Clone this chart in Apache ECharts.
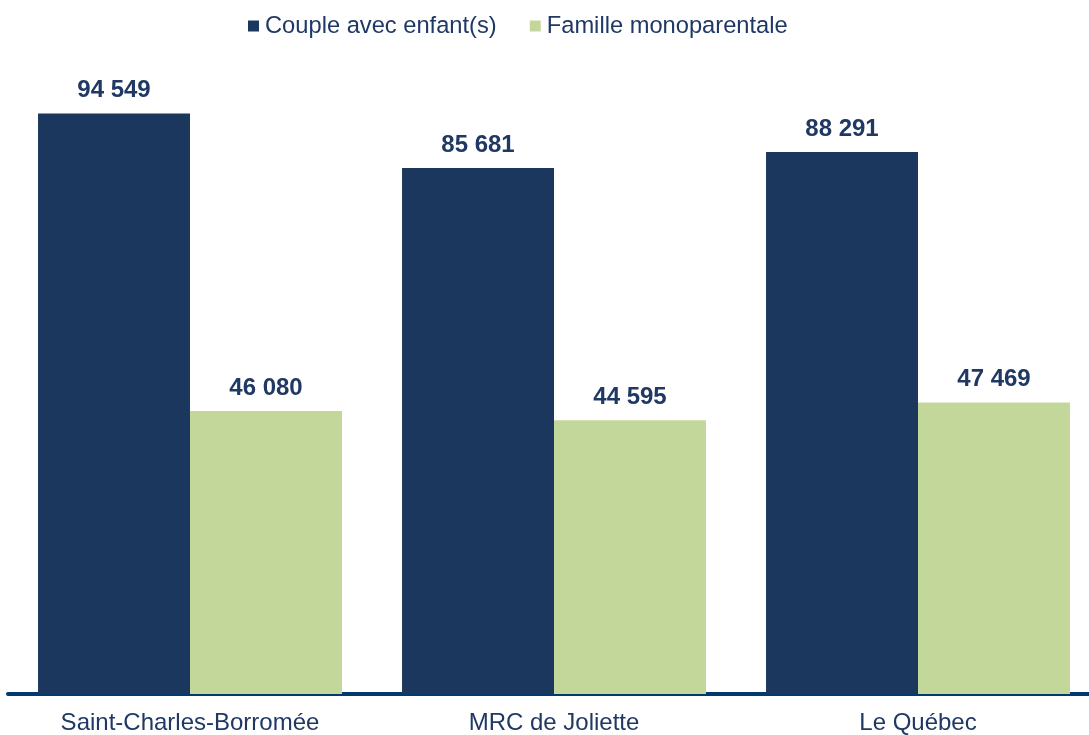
<!DOCTYPE html>
<html>
<head>
<meta charset="utf-8">
<script src="https://cdn.jsdelivr.net/npm/echarts@6/dist/echarts.min.js"></script>
<style>
  html, body { margin: 0; padding: 0; background: #fff; overflow: hidden; }
  #chart { width: 1100px; height: 735px; }
</style>
</head>
<body>
<div id="chart"></div>
<script>
var categories = ['Saint-Charles-Borromée', 'MRC de Joliette', 'Le Québec'];
var couple = [94549, 85681, 88291];
var monoparentale = [46080, 44595, 47469];

var textColor = '#1f3864';

function fmt(p) {
  return String(p.value).replace(/\B(?=(\d{3})+(?!\d))/g, ' ');
}

// the plot runs a little past the right edge of the window, as in the source image
var chart = echarts.init(document.getElementById('chart'));
chart.setOption({
  animation: false,
  textStyle: { fontFamily: 'Liberation Sans, Arial, sans-serif' },
  legend: {
    top: 14,
    left: 248,
    padding: 0,
    itemWidth: 11,
    itemHeight: 11,
    itemGap: 33,
    icon: 'rect',
    textStyle: { fontSize: 23.7, color: textColor, padding: [0, 0, 0, 1] },
    data: ['Couple avec enfant(s)', 'Famille monoparentale']
  },
  grid: { left: 8, right: 0, top: 80, bottom: 40, containLabel: false },
  xAxis: {
    type: 'category',
    data: categories,
    axisLine: { lineStyle: { color: '#003a70', width: 4 } },
    axisTick: { show: false },
    axisLabel: { fontSize: 24, color: textColor, margin: 17 }
  },
  yAxis: {
    type: 'value',
    min: 0,
    max: 100000,
    show: false,
    splitLine: { show: false }
  },
  series: [
    {
      name: 'Couple avec enfant(s)',
      type: 'bar',
      data: couple,
      barGap: '0%',
      barCategoryGap: '16.5%',
      itemStyle: { color: '#1b375d' },
      label: { show: true, position: 'top', distance: 11, formatter: fmt, fontSize: 24, fontWeight: 'bold', color: textColor }
    },
    {
      name: 'Famille monoparentale',
      type: 'bar',
      data: monoparentale,
      itemStyle: { color: '#c4d79b' },
      label: { show: true, position: 'top', distance: 11, formatter: fmt, fontSize: 24, fontWeight: 'bold', color: textColor }
    }
  ]
});
</script>
</body>
</html>
